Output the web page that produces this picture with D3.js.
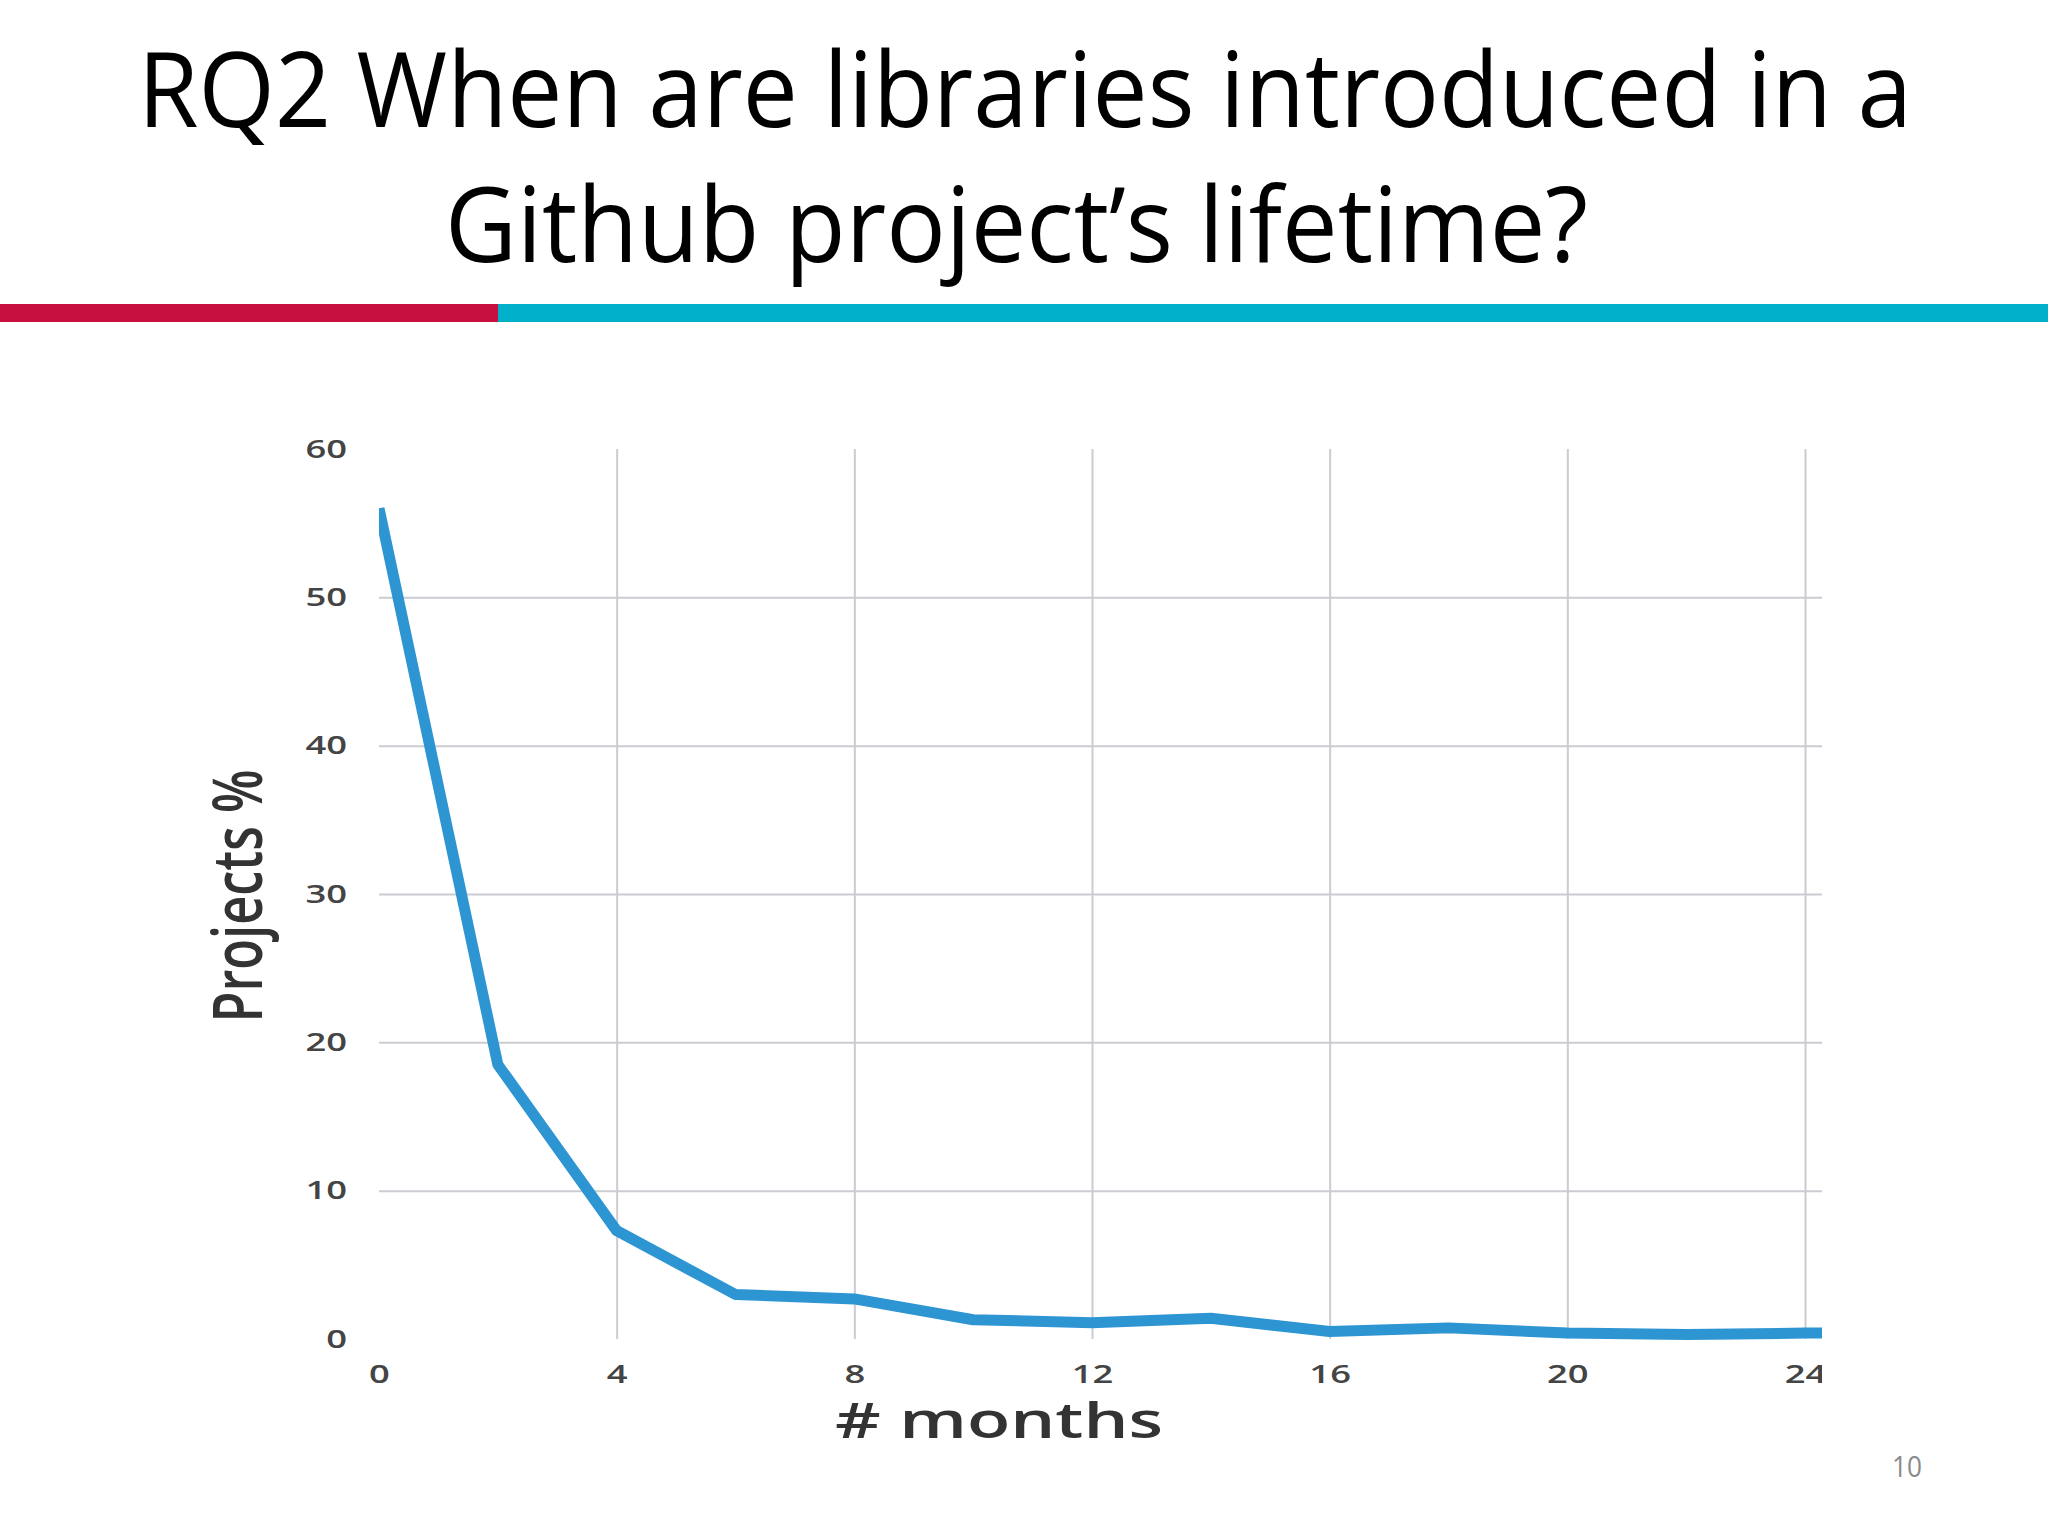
<!DOCTYPE html>
<html lang="en">
<head>
  <meta charset="UTF-8">
  <title>RQ2 When are libraries introduced in a Github project's lifetime?</title>
  <script src="https://d3js.org/d3.v7.min.js"></script>
  <style>
    body {
      margin: 0;
      background: #fff;
    }
    svg {
      display: block;
      background: #fff;
    }
    .title {
      font-family: 'Open Sans', sans-serif;
      font-size: 104px;
      fill: #000;
    }
    .axis text {
      font-family: 'Open Sans', sans-serif;
      font-size: 26px;
      font-weight: 600;
      fill: #444;
    }
    .axis line {
      stroke: #cbcbd2;
      stroke-width: 2;
    }
    .axis path {
      display: none;
    }
  </style>
</head>
<body>
  <div id="chart"></div>
  <script>
    // Values
    const months = [0, 2, 4, 6, 8, 10, 12, 14, 16, 18, 20, 22, 24, 26];
    const projectsPct = [56, 18.5, 7.3, 3.0, 2.7, 1.3, 1.1, 1.4, 0.5, 0.75, 0.4, 0.3, 0.4, 0.4];
    const xTicks = [0, 4, 8, 12, 16, 20, 24];
    const yTicks = [0, 10, 20, 30, 40, 50, 60];
    const titleLines = ["RQ2 When are libraries introduced in a", "Github project\u2019s lifetime?"];

    const W = 2048, H = 1536;
    // the chart picture on the slide is cut off on the right and stretched sideways
    const plot = { left: 379, right: 1805, top: 449, bottom: 1339, cut: 1822 };
    const stretch = 1.4;

    const svg = d3.select("#chart")
      .append("svg")
      .attr("width", W)
      .attr("height", H);

    // Title
    svg.selectAll(".title")
      .data(titleLines)
      .enter()
      .append("text")
      .attr("class", "title")
      .attr("x", (d, i) => i === 0 ? 138 : 445)
      .attr("y", (d, i) => i === 0 ? 127 : 262)
      .attr("textLength", (d, i) => i === 0 ? 1774 : 1143)
      .attr("lengthAdjust", "spacingAndGlyphs")
      .text(d => d);

    // Red / cyan rule under the title
    svg.append("rect").attr("x", 0).attr("y", 304).attr("width", 498).attr("height", 18).attr("fill", "#c8103f");
    svg.append("rect").attr("x", 498).attr("y", 304).attr("width", W - 498).attr("height", 18).attr("fill", "#00b1c9");

    const defs = svg.append("defs");
    defs.append("clipPath").attr("id", "figClip")
      .append("rect").attr("x", 0).attr("y", 330).attr("width", plot.cut).attr("height", 1140);
    defs.append("clipPath").attr("id", "lineClip")
      .append("rect").attr("x", plot.left).attr("y", plot.top - 20)
      .attr("width", plot.cut - plot.left).attr("height", plot.bottom - plot.top + 40);

    const fig = svg.append("g").attr("clip-path", "url(#figClip)");

    const x = d3.scaleLinear().domain([0, 24]).range([plot.left, plot.right]);
    const y = d3.scaleLinear().domain([0, 60]).range([plot.bottom, plot.top]);

    // Y axis + horizontal grid
    const yPad = 32;
    const yAxis = fig.append("g")
      .attr("class", "axis")
      .attr("transform", `translate(${plot.left},0)`)
      .call(d3.axisLeft(y).tickValues(yTicks).tickSize(-(plot.cut - plot.left)).tickPadding(yPad));
    yAxis.selectAll(".tick line")
      .style("display", d => (d === 0 || d === 60) ? "none" : null);
    yAxis.selectAll(".tick text")
      .attr("x", -yPad / stretch)
      .attr("transform", `scale(${stretch},1)`);

    // X axis + vertical grid
    const xAxis = fig.append("g")
      .attr("class", "axis")
      .attr("transform", `translate(0,${plot.bottom})`)
      .call(d3.axisBottom(x).tickValues(xTicks).tickSize(-(plot.bottom - plot.top)).tickPadding(26));
    xAxis.selectAll(".tick line")
      .style("display", d => d === 0 ? "none" : null);
    xAxis.selectAll(".tick text")
      .attr("transform", `scale(${stretch},1)`);

    // Data line
    const line = d3.line()
      .x((d, i) => x(months[i]))
      .y(d => y(d));

    fig.append("g")
      .attr("clip-path", "url(#lineClip)")
      .append("path")
      .datum(projectsPct)
      .attr("fill", "none")
      .attr("stroke", "#2e95d3")
      .attr("stroke-width", 11)
      .attr("stroke-linejoin", "round")
      .attr("d", line);

    // Axis titles
    fig.append("text")
      .attr("x", 999)
      .attr("y", 1438)
      .attr("text-anchor", "middle")
      .attr("textLength", 328)
      .attr("lengthAdjust", "spacingAndGlyphs")
      .style("font-family", "'Open Sans', sans-serif")
      .style("font-size", "48px")
      .style("font-weight", 600)
      .style("fill", "#333")
      .text("# months");

    fig.append("text")
      .attr("transform", "translate(262,896) rotate(-90) scale(1,1.33)")
      .attr("text-anchor", "middle")
      .attr("textLength", 253)
      .attr("lengthAdjust", "spacingAndGlyphs")
      .style("font-family", "'Open Sans', sans-serif")
      .style("font-size", "52px")
      .style("font-weight", 600)
      .style("fill", "#333")
      .text("Projects %");

    // Slide number
    svg.append("text")
      .attr("x", 1907)
      .attr("y", 1477)
      .attr("text-anchor", "middle")
      .attr("textLength", 30)
      .attr("lengthAdjust", "spacingAndGlyphs")
      .style("font-family", "'Open Sans', sans-serif")
      .style("font-size", "30px")
      .style("fill", "#8a8a8a")
      .text("10");
  </script>
</body>
</html>
